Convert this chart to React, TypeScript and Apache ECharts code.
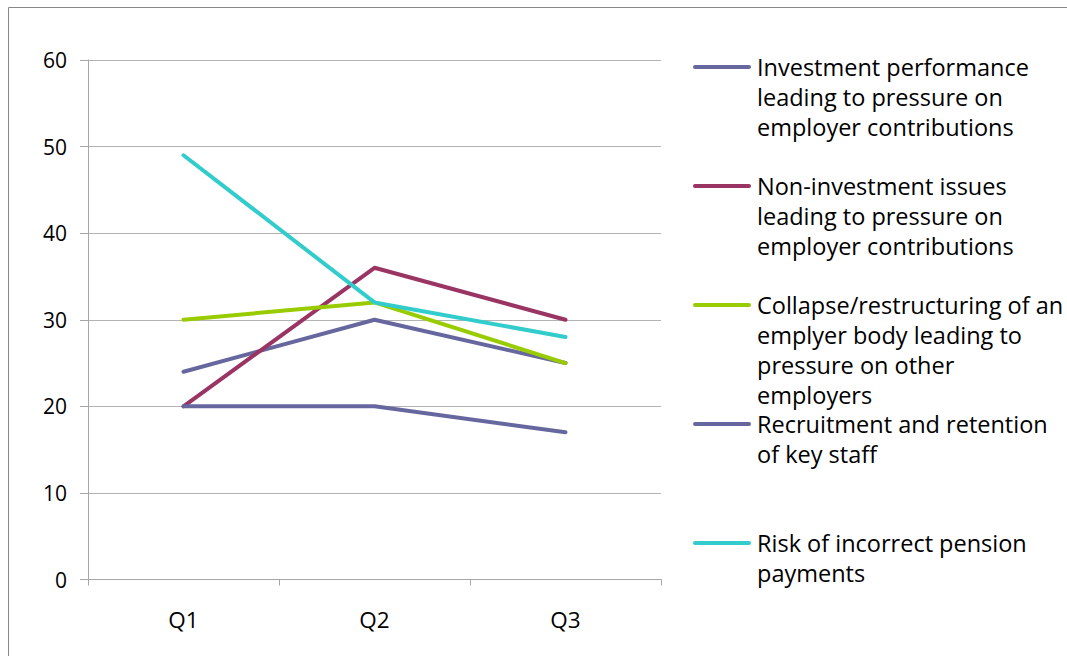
import React, { useEffect, useRef } from "react";
import * as echarts from "echarts";

const categories = ["Q1", "Q2", "Q3"];

const seriesNames = [
  "Investment performance leading to pressure on employer contributions",
  "Non-investment issues leading to pressure on employer contributions",
  "Collapse/restructuring of an emplyer body leading to pressure on other employers",
  "Recruitment and retention of key staff",
  "Risk of incorrect pension payments",
];

const legendLines = [
  ["Investment performance", "leading to pressure on", "employer contributions"],
  ["Non-investment issues", "leading to pressure on", "employer contributions"],
  ["Collapse/restructuring of an", "emplyer body leading to", "pressure on other", "employers"],
  ["Recruitment and retention", "of key staff"],
  ["Risk of incorrect pension", "payments"],
];

const investmentPerformance = [24, 30, 25];
const nonInvestmentIssues = [20, 36, 30];
const collapseRestructuring = [30, 32, 25];
const recruitmentRetention = [20, 20, 17];
const incorrectPayments = [49, 32, 28];

const seriesData = [
  investmentPerformance,
  nonInvestmentIssues,
  collapseRestructuring,
  recruitmentRetention,
  incorrectPayments,
];

const colors = ["#67679f", "#9a3463", "#99cc00", "#67679f", "#33cccc"];

const FONT = "Open Sans";

export default function App() {
  const ref = useRef<HTMLDivElement>(null);

  useEffect(() => {
    if (!ref.current) return;
    const chart = echarts.init(ref.current, undefined, { renderer: "svg" });

    const legendTop = 67;
    const legendStep = 119;
    const legendGraphics: any[] = [];
    legendLines.forEach((lines, i) => {
      const cy = legendTop + legendStep * i;
      legendGraphics.push({
        type: "line",
        shape: { x1: 695, y1: cy, x2: 749, y2: cy },
        style: { stroke: colors[i], lineWidth: 4, lineCap: "round" },
      });
      legendGraphics.push({
        type: "text",
        x: 757,
        y: cy - 15,
        style: {
          text: lines.join("\n"),
          fontFamily: FONT,
          fontSize: 23.5,
          lineHeight: 30,
          fill: "#000",
          verticalAlign: "top",
          align: "left",
        },
      });
    });

    chart.setOption({
      animation: false,
      backgroundColor: "#fff",
      grid: { left: 88, right: 406, top: 60, bottom: 76.5, containLabel: false },
      xAxis: {
        type: "category",
        data: categories,
        boundaryGap: true,
        axisLine: { show: true, lineStyle: { color: "#a6a6a6", width: 1 } },
        axisTick: { show: true, length: 6, lineStyle: { color: "#a6a6a6" } },
        axisLabel: { color: "#000", fontFamily: FONT, fontSize: 22.5, margin: 28 },
        splitLine: { show: false },
      },
      yAxis: {
        type: "value",
        min: 0,
        max: 60,
        interval: 10,
        axisLine: { show: true, lineStyle: { color: "#a6a6a6", width: 1 } },
        axisTick: { show: true, length: 8, inside: false, lineStyle: { color: "#a6a6a6" } },
        axisLabel: { color: "#000", fontFamily: FONT, fontSize: 21, margin: 21 },
        splitLine: { show: true, lineStyle: { color: "#b3b3b3", width: 1 } },
      },
      series: seriesData.map((d, i) => ({
        name: seriesNames[i],
        type: "line",
        data: d,
        symbol: "none",
        lineStyle: { color: colors[i], width: 4, cap: "round", join: "round" },
        itemStyle: { color: colors[i] },
      })),
      graphic: [
        {
          type: "rect",
          shape: { x: 8.5, y: 7.5, width: 1200, height: 800 },
          style: { fill: "none", stroke: "#888888", lineWidth: 1 },
          silent: true,
        },
        ...legendGraphics,
      ],
    });

    return () => {
      chart.dispose();
    };
  }, []);

  return (
    <div
      ref={ref}
      style={{ position: "absolute", left: 0, top: 0, width: 1067, height: 656 }}
    />
  );
}
